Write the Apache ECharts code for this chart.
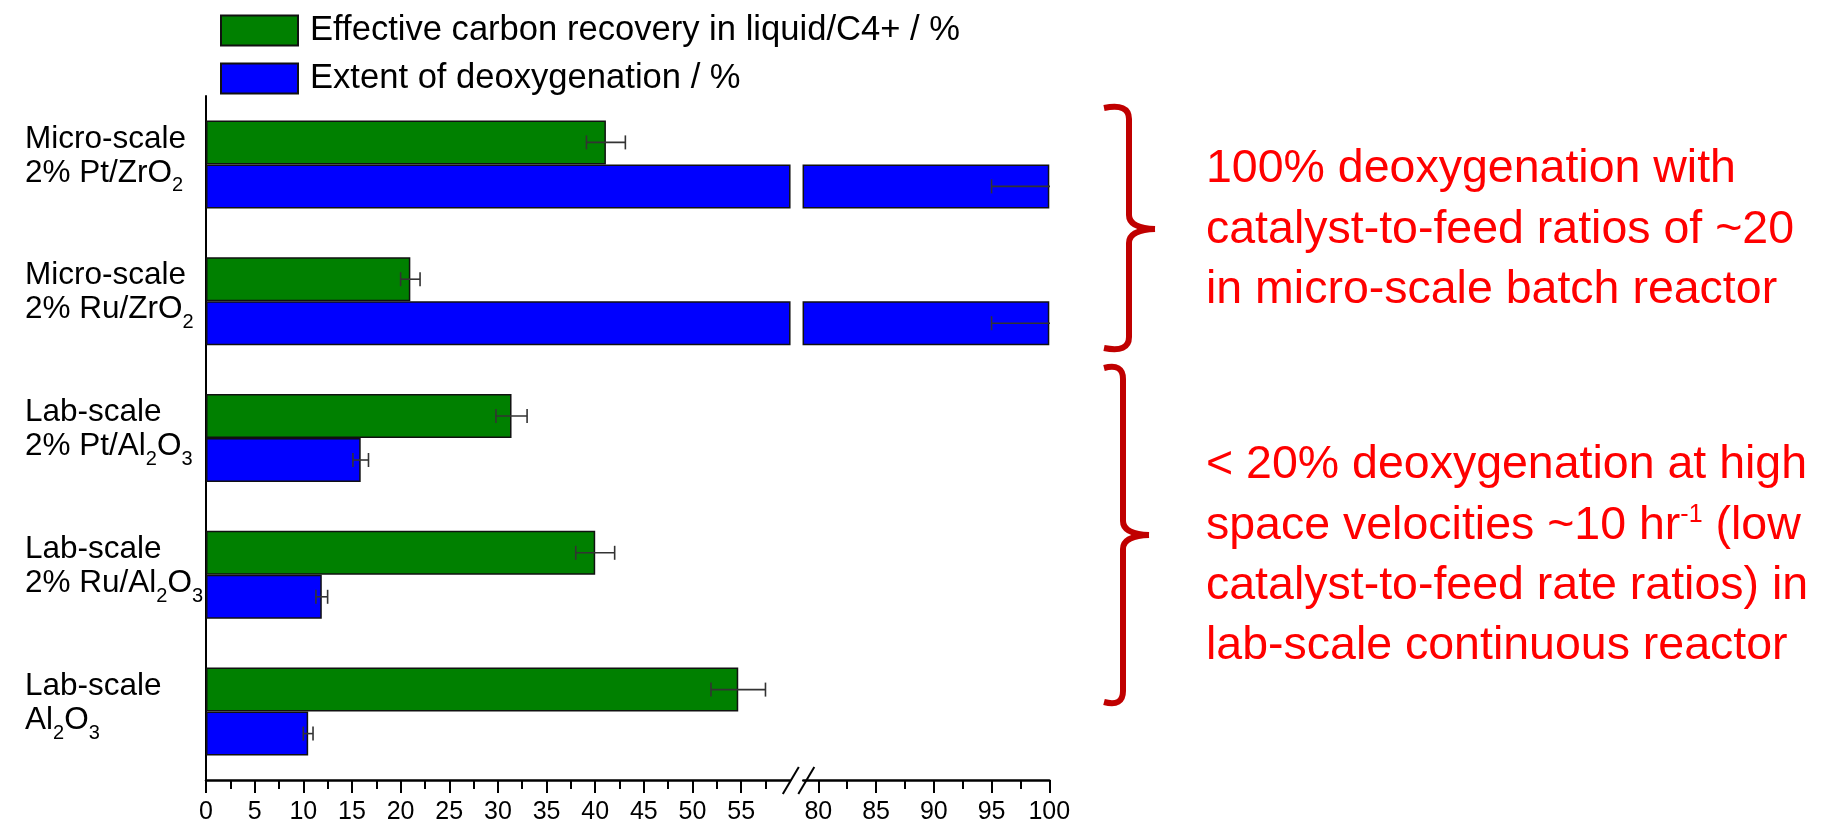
<!DOCTYPE html>
<html>
<head>
<meta charset="utf-8">
<script src="https://cdn.jsdelivr.net/npm/echarts@6/dist/echarts.min.js"></script>
<style>
  html, body { margin: 0; padding: 0; background: #ffffff; }
  #chart { width: 1828px; height: 825px; }
</style>
</head>
<body>
<div id="chart"></div>
<script>
// Catalyst groups, top to bottom (second line: main text and subscript parts)
const scaleNames = ['Micro-scale', 'Micro-scale', 'Lab-scale', 'Lab-scale', 'Lab-scale'];
const catalystNames = [
  '{m|2% Pt/ZrO}{sub|2}',
  '{m|2% Ru/ZrO}{sub|2}',
  '{m|2% Pt/Al}{sub|2}{m|O}{sub|3}',
  '{m|2% Ru/Al}{sub|2}{m|O}{sub|3}',
  '{m|Al}{sub|2}{m|O}{sub|3}'
];

// Effective carbon recovery in liquid/C4+ (%) with error
const carbonRecovery = [41.1, 21.0, 31.4, 40.0, 54.7];
const carbonRecoveryErr = [2.0, 1.0, 1.6, 2.0, 2.8];

// Extent of deoxygenation (%) with error
const deoxygenation = [100, 100, 15.9, 11.9, 10.5];
const deoxygenationErr = [5.0, 5.0, 0.8, 0.6, 0.5];

// Broken x axis: lower part and upper part
const lowerRange = [0, 60];
const upperRange = [78.7, 100];
const lowerTicks = [0, 5, 10, 15, 20, 25, 30, 35, 40, 45, 50, 55];
const lowerMinorTicks = [2.5, 7.5, 12.5, 17.5, 22.5, 27.5, 32.5, 37.5, 42.5, 47.5, 52.5, 57.5];
const upperTicks = [80, 85, 90, 95, 100];
const upperMinorTicks = [82.5, 87.5, 92.5, 97.5];

const seriesNames = ['Effective carbon recovery in liquid/C4+ / %', 'Extent of deoxygenation / %'];

const FONT = '"Liberation Sans", Arial, Helvetica, sans-serif';
const GREEN = '#008000';
const BLUE = '#0000ff';
const BAR_W = 44;
const BAND = 125;
const PLOT_TOP = 96;
const PLOT_H = 684.5;
const AXIS_Y = PLOT_TOP + PLOT_H;

const categories = scaleNames.map((s, i) => s + '\n' + catalystNames[i]);

const chart = echarts.init(document.getElementById('chart'), null, { renderer: 'canvas' });

function yAxisFor(gridIndex, visible) {
  return {
    type: 'category',
    gridIndex: gridIndex,
    inverse: true,
    data: categories,
    max: PLOT_H / BAND - 1,
    show: visible,
    axisLine: { show: true, lineStyle: { color: '#000', width: 2 } },
    axisTick: { show: false },
    axisLabel: {
      interval: 0,
      align: 'left',
      margin: 181,
      color: '#000',
      fontFamily: FONT,
      fontSize: 31.5,
      lineHeight: 36,
      padding: [0, 0, 12, 0],
      rich: {
        m: { fontSize: 31.5, lineHeight: 36, verticalAlign: 'top', color: '#000', fontFamily: FONT },
        sub: { fontSize: 20, lineHeight: 39, verticalAlign: 'bottom', color: '#000', fontFamily: FONT }
      }
    }
  };
}

function majorX(gridIndex, range, ticks) {
  return {
    type: 'value',
    gridIndex: gridIndex,
    min: range[0],
    max: range[1],
    position: 'bottom',
    splitLine: { show: false },
    axisLine: { show: true, onZero: false, lineStyle: { color: '#000', width: 2.5 } },
    axisTick: { show: true, customValues: ticks, length: 13, lineStyle: { color: '#000', width: 2 } },
    axisLabel: { customValues: ticks, color: '#000', fontFamily: FONT, fontSize: 25, margin: 20 }
  };
}

function minorX(gridIndex, range, ticks) {
  return {
    type: 'value',
    gridIndex: gridIndex,
    min: range[0],
    max: range[1],
    position: 'bottom',
    splitLine: { show: false },
    axisLine: { show: false, onZero: false },
    axisTick: { show: true, customValues: ticks, length: 9, lineStyle: { color: '#000', width: 2 } },
    axisLabel: { show: false }
  };
}

function errorBars(sign) {
  return function (params, api) {
    const v = api.value(0), c = api.value(1), e = api.value(2);
    const p0 = api.coord([v - e, c]);
    const p1 = api.coord([v + e, c]);
    const y = p0[1] + sign * BAR_W / 2;
    const h = 7;
    const style = { stroke: '#333', lineWidth: 1.6 };
    return {
      type: 'group',
      children: [
        { type: 'line', shape: { x1: p0[0], y1: y, x2: p1[0], y2: y }, style: style },
        { type: 'line', shape: { x1: p0[0], y1: y - h, x2: p0[0], y2: y + h }, style: style },
        { type: 'line', shape: { x1: p1[0], y1: y - h, x2: p1[0], y2: y + h }, style: style }
      ]
    };
  };
}

function barSeries(name, data, color, axisIndex) {
  return {
    type: 'bar',
    name: name,
    xAxisIndex: axisIndex,
    yAxisIndex: axisIndex,
    data: data,
    barWidth: BAR_W,
    barGap: '0%',
    clip: true,
    itemStyle: { color: color, borderColor: '#111', borderWidth: 1.5 },
    emphasis: { disabled: true }
  };
}

function errorSeries(values, errs, sign, axisIndex) {
  return {
    type: 'custom',
    xAxisIndex: axisIndex,
    yAxisIndex: axisIndex,
    clip: true,
    z: 5,
    silent: true,
    renderItem: errorBars(sign),
    encode: { x: 0, y: 1 },
    data: values.map((v, i) => [v, i, errs[i]])
  };
}

const annotationStyle = { fill: '#ff0000', fontFamily: FONT, fontSize: 46.5, verticalAlign: 'middle', align: 'left' };

function noteLine(text, y, rich) {
  const style = Object.assign({ text: text, x: 1206, y: y }, annotationStyle);
  if (rich) style.rich = rich;
  return { type: 'text', silent: true, style: style };
}

// Curly bracket built from curves and straight strokes
function bracket(xEnd, xV, xTip, yTop, yMid, yBot) {
  const style = { fill: 'none', stroke: '#c00000', lineWidth: 6 };
  const curve = (x1, y1, cx, cy, x2, y2) => ({
    type: 'bezierCurve', silent: true,
    shape: { x1: x1, y1: y1, cpx1: cx, cpy1: cy, x2: x2, y2: y2 }, style: style
  });
  const seg = (x1, y1, x2, y2) => ({
    type: 'line', silent: true, shape: { x1: x1, y1: y1, x2: x2, y2: y2 }, style: style
  });
  return {
    type: 'group', silent: true,
    children: [
      curve(xEnd, yTop + 1, xV, yTop - 4, xV, yTop + 12),
      seg(xV, yTop + 12, xV, yMid - 14),
      curve(xV, yMid - 14, xV, yMid - 1, xTip, yMid),
      curve(xTip, yMid, xV, yMid + 1, xV, yMid + 14),
      seg(xV, yMid + 14, xV, yBot - 12),
      curve(xV, yBot - 12, xV, yBot + 4, xEnd, yBot - 1)
    ]
  };
}

const option = {
  backgroundColor: '#ffffff',
  animation: false,
  grid: [
    { left: 206, top: PLOT_TOP, width: 583.8, height: PLOT_H },
    { left: 803.3, top: PLOT_TOP, width: 246, height: PLOT_H }
  ],
  legend: {
    data: seriesNames,
    orient: 'vertical',
    left: 220,
    top: 13,
    padding: 0,
    itemWidth: 77,
    itemHeight: 30,
    itemGap: 13,
    icon: 'rect',
    selectedMode: false,
    textStyle: { color: '#000', fontFamily: FONT, fontSize: 34.6, padding: [0, 0, 0, 7] }
  },
  xAxis: [
    majorX(0, lowerRange, lowerTicks),
    majorX(1, upperRange, upperTicks),
    minorX(0, lowerRange, lowerMinorTicks),
    minorX(1, upperRange, upperMinorTicks)
  ],
  yAxis: [yAxisFor(0, true), yAxisFor(1, false)],
  series: [
    barSeries(seriesNames[0], carbonRecovery, GREEN, 0),
    barSeries(seriesNames[1], deoxygenation, BLUE, 0),
    barSeries(seriesNames[0], carbonRecovery, GREEN, 1),
    barSeries(seriesNames[1], deoxygenation, BLUE, 1),
    errorSeries(carbonRecovery, carbonRecoveryErr, -1, 0),
    errorSeries(deoxygenation, deoxygenationErr, 1, 0),
    errorSeries(carbonRecovery, carbonRecoveryErr, -1, 1),
    errorSeries(deoxygenation, deoxygenationErr, 1, 1)
  ]
};

chart.setOption(option);

// Axis break marks and the two bracketed notes
const breakLeft = chart.convertToPixel({ xAxisIndex: 0 }, lowerRange[1]);
const breakRight = chart.convertToPixel({ xAxisIndex: 1 }, upperRange[0]);
const slash = (x) => ({
  type: 'line', silent: true, z: 10,
  shape: { x1: x - 8, y1: AXIS_Y + 13.5, x2: x + 8, y2: AXIS_Y - 13.5 },
  style: { stroke: '#000', lineWidth: 2 }
});

chart.setOption({
  graphic: [
    slash(breakLeft + 1),
    slash(breakRight + 3),
    bracket(1104, 1129, 1155, 107, 229, 349),
    bracket(1104, 1123, 1149, 367, 535, 703),
    noteLine('100% deoxygenation with', 169.5),
    noteLine('catalyst-to-feed ratios of ~20', 230),
    noteLine('in micro-scale batch reactor', 290.5),
    noteLine('< 20% deoxygenation at high', 465.5),
    noteLine('space velocities ~10 hr{sup|-1} (low', 526, {
      sup: { fontSize: 25, lineHeight: 25, verticalAlign: 'top', fill: '#ff0000', fontFamily: FONT }
    }),
    noteLine('catalyst-to-feed rate ratios) in', 586.5),
    noteLine('lab-scale continuous reactor', 646.5)
  ]
});
</script>
</body>
</html>
